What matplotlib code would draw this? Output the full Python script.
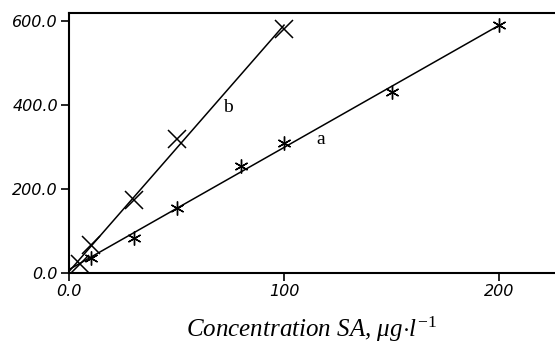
import matplotlib
matplotlib.use("Agg")
import matplotlib.pyplot as plt
import numpy as np

# Data
conc_a = [10, 30, 50, 80, 100, 150, 200]
signal_a = [36, 83, 155, 255, 310, 431, 590]
conc_b = [5, 10, 30, 50, 100]
signal_b = [22, 66, 174, 319, 581]

x_ticks = [0, 100, 200]
x_tick_labels = ["0.0", "100", "200"]
y_ticks = [0, 200, 400, 600]
y_tick_labels = ["0.0", "200.0", "400.0", "600.0"]

plt.rcParams["mathtext.fontset"] = "custom"
plt.rcParams["mathtext.rm"] = "Liberation Serif"
plt.rcParams["mathtext.it"] = "Liberation Serif:italic"

fig = plt.figure(figsize=(5.55, 3.46), dpi=100)
ax = fig.add_axes([69 / 555, 1 - 273 / 346, 1 - 69 / 555, (273 - 13) / 346])

# fitted lines through each series
for xs, ys in [(conc_a, signal_a), (conc_b, signal_b)]:
    k = np.polyfit(xs, ys, 1)
    xx = np.array([0, max(xs)])
    ax.plot(xx, np.polyval(k, xx), color="black", lw=1.1)

ax.plot(conc_a, signal_a, ls="none", marker=(6, 2, 0), ms=10, mew=1.0, color="black")
ax.plot(conc_b, signal_b, ls="none", marker="x", ms=13, mew=1.1, color="black")

ax.text(117, 317, "a", fontsize=14, family="Liberation Serif", ha="center", va="center")
ax.text(74, 393, "b", fontsize=14, family="Liberation Serif", ha="center", va="center")

ax.set_xlim(0, 226)
ax.set_ylim(0, 619)
ax.set_xticks(x_ticks)
ax.set_xticklabels(x_tick_labels)
ax.set_yticks(y_ticks)
ax.set_yticklabels(y_tick_labels)
for lab in ax.get_xticklabels() + ax.get_yticklabels():
    lab.set_fontstyle("italic")
    lab.set_fontsize(11.5)
    lab.set_family("DejaVu Sans")
ax.tick_params(direction="out", length=6, width=1.2, pad=2)
ax.spines["right"].set_visible(False)
for s in ["left", "top", "bottom"]:
    ax.spines[s].set_linewidth(1.5)

ax.set_xlabel(r"Concentration SA, $\mathit{\mu g}{\cdot}\mathit{l}^{\mathit{-1}}$",
              fontsize=18, family="Liberation Serif", style="italic", labelpad=11)

fig.savefig("out.png", dpi=100)
